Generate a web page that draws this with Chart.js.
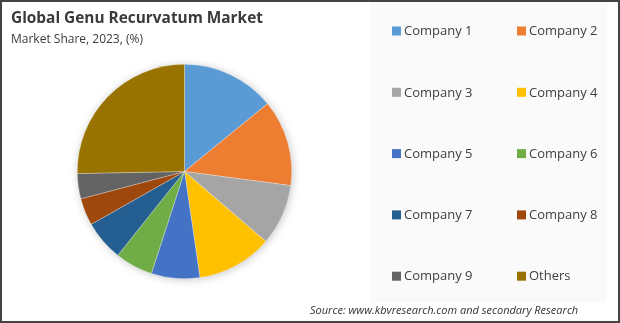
<!DOCTYPE html>
<html>
<head>
<meta charset="utf-8">
<script src="https://cdn.jsdelivr.net/npm/chart.js@4.4.0/dist/chart.umd.min.js"></script>
<style>
  html, body { margin: 0; padding: 0; background: #fff; }
  #wrap { width: 620px; height: 323px; position: relative; }
</style>
</head>
<body>
<div id="wrap"><canvas id="myChart" width="620" height="323"></canvas></div>
<script>
// values, clockwise from 12 o'clock
const companies = ['Company 1', 'Company 2', 'Company 3', 'Company 4', 'Company 5',
                   'Company 6', 'Company 7', 'Company 8', 'Company 9', 'Others'];
const shares = [14.1, 13.0, 9.2, 11.4, 7.3, 5.7, 6.1, 4.1, 3.8, 25.3];
const sliceColors = ['#5b9bd5', '#ed7d31', '#a5a5a5', '#ffc000', '#4472c4',
                     '#70ad47', '#255e91', '#9e480e', '#636363', '#997300'];

const chartTitle = 'Global Genu Recurvatum Market';
const chartSubtitle = 'Market Share, 2023, (%)';
const sourceText = 'Source: www.kbvresearch.com and secondary Research';

const font = '"Open Sans", "Noto Sans", sans-serif';

// soft shadow under the pie
const pieShadow = {
  id: 'pieShadow',
  beforeDatasetsDraw(chart) {
    const arc = chart.getDatasetMeta(0).data[0];
    if (!arc) return;
    const ctx = chart.ctx;
    ctx.save();
    ctx.shadowColor = 'rgba(0,0,0,0.28)';
    ctx.shadowBlur = 10;
    ctx.shadowOffsetX = 1;
    ctx.shadowOffsetY = 1;
    ctx.fillStyle = '#fff';
    ctx.beginPath();
    ctx.arc(arc.x, arc.y, arc.outerRadius - 1, 0, Math.PI * 2);
    ctx.fill();
    ctx.restore();
  }
};

// titles, two-column legend, source line, frame
const decorations = {
  id: 'decorations',
  beforeDraw(chart) {
    const ctx = chart.ctx;
    ctx.save();
    ctx.fillStyle = '#fafafa';
    ctx.fillRect(370, 3, 237, 300);
    ctx.restore();
  },
  afterDraw(chart) {
    const ctx = chart.ctx;
    ctx.save();
    ctx.textBaseline = 'middle';

    ctx.fillStyle = '#3a3a3a';
    ctx.font = 'bold 15.4px ' + font;
    ctx.fillText(chartTitle, 11, 19);
    ctx.font = '12px ' + font;
    ctx.fillText(chartSubtitle, 11, 40);

    // legend, two per row
    const labels = chart.data.labels;
    const colors = chart.data.datasets[0].backgroundColor;
    ctx.font = '13px ' + font;
    labels.forEach((lab, i) => {
      const col = i % 2;
      const row = Math.floor(i / 2);
      const x = col === 0 ? 392 : 517;
      const y = 31 + row * 61.3;
      ctx.fillStyle = colors[i];
      ctx.fillRect(x, y - 4.5, 9, 9);
      ctx.fillStyle = '#404040';
      ctx.fillText(lab, x + 12, y + 0.5);
    });

    ctx.font = 'italic 11px ' + font;
    ctx.fillStyle = '#333';
    ctx.fillText(sourceText, 310, 311);

    ctx.strokeStyle = '#444';
    ctx.lineWidth = 2;
    ctx.strokeRect(1, 1, 618, 321);
    ctx.restore();
  }
};

new Chart(document.getElementById('myChart').getContext('2d'), {
  type: 'pie',
  data: {
    labels: companies,
    datasets: [{
      data: shares,
      backgroundColor: sliceColors,
      borderColor: 'rgba(255,255,255,0.45)',
      borderWidth: 0.6
    }]
  },
  options: {
    responsive: false,
    animation: false,
    layout: { padding: { left: 77, right: 328, top: 64, bottom: 44 } },
    plugins: {
      legend: { display: false },
      tooltip: { enabled: false }
    }
  },
  plugins: [pieShadow, decorations]
});
</script>
</body>
</html>
